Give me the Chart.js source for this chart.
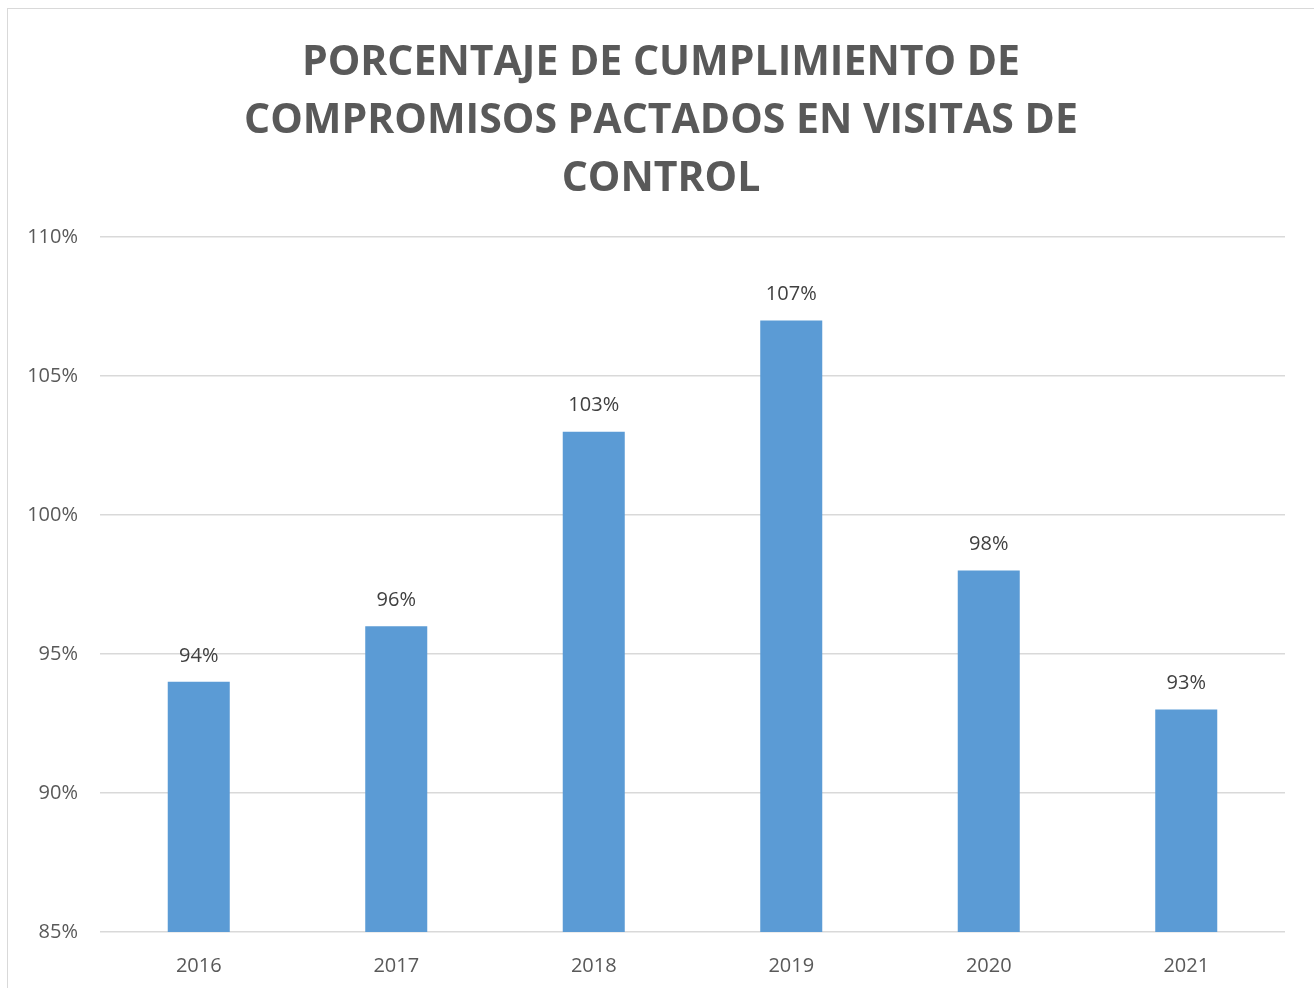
<!DOCTYPE html>
<html>
<head>
<meta charset="utf-8">
<script src="https://cdn.jsdelivr.net/npm/chart.js@4"></script>
<style>
	html, body { margin: 0; padding: 0; background: #fff; overflow: hidden; }
	#frame { position: absolute; left: 7px; top: 8px; width: 1340px; height: 1020px; border: 1px solid #d9d9d9; }
	#wrap { position: absolute; left: 0; top: 0; width: 1314px; height: 988px; }
</style>
</head>
<body>
<div id="frame"></div>
<div id="wrap"><canvas id="cumplimiento_chart"></canvas></div>
<script>
const years = ['2016', '2017', '2018', '2019', '2020', '2021']
const cumplimiento = [94, 96, 103, 107, 98, 93]
const titleLines = ['PORCENTAJE DE CUMPLIMIENTO DE', 'COMPROMISOS PACTADOS EN VISITAS DE', 'CONTROL']

const TEXT_GRAY = '#595959'
const FONT = "'Open Sans', sans-serif"

// writes the value over each bar
const barLabels = {
	id: 'barLabels',
	afterDatasetsDraw(chart) {
		const ctx = chart.ctx
		const meta = chart.getDatasetMeta(0)
		ctx.save()
		ctx.font = `20px ${FONT}`
		ctx.fillStyle = '#404040'
		ctx.textAlign = 'center'
		ctx.textBaseline = 'middle'
		meta.data.forEach((bar, i) => {
			ctx.fillText(cumplimiento[i] + '%', bar.x, bar.y - 26)
		})
		ctx.restore()
	},
}

const options = {
	type: 'bar',
	data: {
		labels: years,
		datasets: [
			{
				data: cumplimiento,
				backgroundColor: '#5b9bd5',
				categoryPercentage: 1,
				barPercentage: 0.314,
			},
		],
	},
	options: {
		responsive: false,
		animation: false,
		// left padding keeps the title centred like the original
		layout: { padding: { left: 8, right: 0, top: 0, bottom: 0 } },
		plugins: {
			legend: { display: false },
			tooltip: { enabled: false },
			title: {
				display: true,
				text: titleLines,
				color: TEXT_GRAY,
				font: { family: FONT, size: 41, weight: 'bold', lineHeight: 1.415 },
				padding: { top: 34, bottom: 29 },
			},
		},
		scales: {
			x: {
				grid: { display: false },
				border: { display: false },
				ticks: { color: TEXT_GRAY, font: { family: FONT, size: 20 }, padding: 14 },
				afterFit: scale => { scale.height = 56 },
			},
			y: {
				min: 85,
				max: 110,
				grid: { color: '#d9d9d9', lineWidth: 1.5, drawTicks: false },
				border: { display: false },
				ticks: {
					stepSize: 5,
					color: TEXT_GRAY,
					font: { family: FONT, size: 20 },
					padding: 22,
					callback: value => value + '%',
				},
				afterFit: scale => { scale.width = 92 },
			},
			// empty axis on the right, just to hold the right margin
			yRight: {
				position: 'right',
				display: true,
				grid: { display: false },
				border: { display: false },
				ticks: { display: false },
				afterFit: scale => { scale.width = 29 },
			},
		},
	},
	plugins: [barLabels],
}

const canvas = document.getElementById('cumplimiento_chart')
canvas.width = 1314
canvas.height = 988
const cumplimientoChart = new Chart(canvas, options)
</script>
</body>
</html>
